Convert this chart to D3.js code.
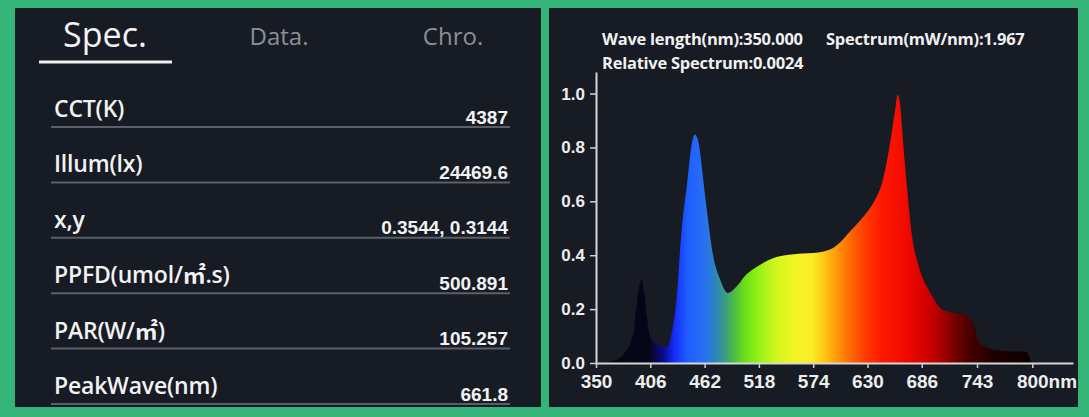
<!DOCTYPE html>
<html>
<head>
<meta charset="utf-8">
<script src="https://cdn.jsdelivr.net/npm/d3@7"></script>
<style>
    html, body { margin: 0; padding: 0; background: #35b479; }
    svg { display: block; }
</style>
</head>
<body>
<svg id="js-spec-svg"></svg>
<script>
'use strict';

// tabs and measurement rows
const tabs = ['Spec.', 'Data.', 'Chro.'];
const rowLabels = ['CCT(K)', 'Illum(lx)', 'x,y', 'PPFD(umol/㎡.s)', 'PAR(W/㎡)', 'PeakWave(nm)'];
const rowValues = ['4387', '24469.6', '0.3544, 0.3144', '500.891', '105.257', '661.8'];

// readout above the plot
const readout = ['Wave length(nm):350.000', 'Spectrum(mW/nm):1.967', 'Relative Spectrum:0.0024'];

// relative spectrum
const waves = [350, 360, 371, 380, 386, 389, 392, 395, 397, 399, 402, 405, 410, 416, 423, 428, 433, 438, 444, 449,
    452, 455, 457, 461, 466, 471, 478, 486, 495, 505, 519, 533, 554, 574, 585, 595, 602, 612, 626, 636, 646, 655, 659,
    661, 664, 666, 671, 676, 683, 695, 708, 720, 729, 739, 746, 763, 780, 794, 799, 800];
const relative = [0.0, 0.003, 0.011, 0.04, 0.08, 0.12, 0.22, 0.29, 0.31, 0.28, 0.19, 0.11, 0.075, 0.065, 0.06, 0.11,
    0.234, 0.48, 0.667, 0.817, 0.848, 0.83, 0.79, 0.667, 0.52, 0.395, 0.31, 0.26, 0.284, 0.328, 0.364, 0.39, 0.404,
    0.408, 0.414, 0.428, 0.448, 0.488, 0.544, 0.594, 0.68, 0.854, 0.95, 0.996, 0.95, 0.854, 0.643, 0.47, 0.358, 0.259,
    0.197, 0.185, 0.182, 0.147, 0.073, 0.048, 0.043, 0.042, 0.005, 0.0];

// axis ticks
const xTicks = [350, 406, 462, 518, 574, 630, 686, 743, 800];
const yTicks = [0, 0.2, 0.4, 0.6, 0.8, 1.0];

// colour of light along the wavelength axis
const gradWaves = [350, 405, 420, 432, 445, 462, 472, 482, 492, 502, 515, 535, 555, 572, 585, 598, 612, 628, 645, 670,
    690, 705, 720, 735, 760, 800];
const gradColors = ['#07070c', '#05051a', '#0c0c90', '#1630ff', '#1f5fff', '#2a70f0', '#2a82c4', '#389a88', '#4cba48',
    '#66dc1c', '#8cf015', '#d0f51e', '#f2f522', '#f8ee28', '#ffc814', '#ff9a08', '#ff6a00', '#ff3a00', '#ff1800',
    '#f00a00', '#d40000', '#ac0000', '#760000', '#480000', '#1e0000', '#0c0000'];

(function () {
    const width = 1089;
    const height = 417;
    const panelFill = '#171b24';
    const sans = "'Open Sans', 'Noto Sans CJK SC', sans-serif";
    const bold = "'Liberation Sans', Arial, sans-serif";

    const svg = d3.select('#js-spec-svg')
        .attr('width', width)
        .attr('height', height);

    svg.append('rect').attr('x', 15).attr('y', 8).attr('width', 526).attr('height', 399).attr('fill', panelFill);
    svg.append('rect').attr('x', 549).attr('y', 8).attr('width', 529).attr('height', 399).attr('fill', panelFill);

    // ---- left panel ----
    const tabX = d3.scalePoint().domain(tabs).range([105, 453]);

    svg.selectAll('.tab')
        .data(tabs)
        .enter().append('text')
        .attr('class', 'tab')
        .attr('x', d => tabX(d))
        .attr('y', (d, i) => i === 0 ? 47 : 45)
        .attr('text-anchor', 'middle')
        .attr('font-family', sans)
        .attr('font-size', (d, i) => i === 0 ? 34 : 24)
        .attr('fill', (d, i) => i === 0 ? '#f4f4f4' : '#8b8f97')
        .text(d => d);

    svg.append('line')
        .attr('x1', tabX(tabs[0]) - 66).attr('x2', tabX(tabs[0]) + 67)
        .attr('y1', 62).attr('y2', 62)
        .attr('stroke', '#f0f0f0')
        .attr('stroke-width', 3);

    const rowY = d3.scalePoint().domain(rowLabels).range([127, 404]);

    const row = svg.selectAll('.row')
        .data(rowLabels)
        .enter().append('g')
        .attr('class', 'row')
        .attr('transform', d => 'translate(0,' + rowY(d) + ')');

    row.append('line')
        .attr('x1', 51).attr('x2', 510)
        .attr('stroke', '#5a5f69')
        .attr('stroke-width', 2);

    row.append('text')
        .attr('x', 54)
        .attr('y', -10)
        .attr('font-family', sans)
        .attr('font-weight', 600)
        .attr('font-size', 23)
        .attr('letter-spacing', -0.2)
        .attr('fill', '#f2f2f2')
        .text(d => d);

    row.append('text')
        .attr('x', 508)
        .attr('y', -3.5)
        .attr('text-anchor', 'end')
        .attr('font-family', bold)
        .attr('font-weight', 'bold')
        .attr('font-size', 19)
        .attr('fill', '#f2f2f2')
        .text((d, i) => rowValues[i]);

    // ---- right panel: spectrum ----
    const x = d3.scaleLinear().domain([350, 842]).range([596, 1073]);
    const y = d3.scaleLinear().domain([0, 1.08]).range([363, 72]);

    const grad = svg.append('defs').append('linearGradient')
        .attr('id', 'spectrum-grad')
        .attr('gradientUnits', 'userSpaceOnUse')
        .attr('x1', x(350)).attr('x2', x(800))
        .attr('y1', 0).attr('y2', 0);

    grad.selectAll('stop')
        .data(gradWaves)
        .enter().append('stop')
        .attr('offset', d => (d - 350) / (800 - 350))
        .attr('stop-color', (d, i) => gradColors[i]);

    const area = d3.area()
        .x((d, i) => x(waves[i]))
        .y0(y(0))
        .y1(d => y(d))
        .curve(d3.curveMonotoneX);

    svg.append('path')
        .datum(relative)
        .attr('fill', 'url(#spectrum-grad)')
        .attr('d', area);

    const yAxis = svg.append('g')
        .attr('transform', 'translate(' + x(350) + ',0)')
        .call(d3.axisLeft(y)
            .tickValues(yTicks)
            .tickFormat(d3.format('.1f'))
            .tickSize(6)
            .tickSizeOuter(0)
            .tickPadding(5));

    const xAxis = svg.append('g')
        .attr('transform', 'translate(0,' + y(0) + ')')
        .call(d3.axisBottom(x)
            .tickValues(xTicks)
            .tickFormat(d3.format('d'))
            .tickSize(5)
            .tickSizeOuter(0)
            .tickPadding(7));

    [xAxis, yAxis].forEach(g => {
        g.select('.domain').attr('stroke', '#d6d6d6').attr('stroke-width', 2);
        g.selectAll('.tick line').attr('stroke', '#cfcfcf').attr('stroke-width', 1.5);
        g.selectAll('.tick text')
            .attr('fill', '#ededed')
            .attr('font-family', bold)
            .attr('font-weight', 'bold');
    });
    yAxis.selectAll('.tick text').attr('font-size', 17);
    xAxis.selectAll('.tick text').attr('font-size', 19);

    // last tick carries the unit after the number
    const last = xAxis.selectAll('.tick text').filter(d => d === 800);
    const numWidth = last.node().getComputedTextLength();
    last.attr('text-anchor', 'start')
        .attr('x', -numWidth / 2)
        .append('tspan')
        .text('nm');

    svg.selectAll('.readout')
        .data(readout)
        .enter().append('text')
        .attr('class', 'readout')
        .attr('x', (d, i) => i === 1 ? 826 : 602)
        .attr('y', (d, i) => i === 2 ? 68.5 : 45)
        .attr('font-family', sans)
        .attr('font-weight', 700)
        .attr('font-size', 16.5)
        .attr('letter-spacing', -0.25)
        .attr('fill', '#f0f0f0')
        .text(d => d);
})();
</script>
</body>
</html>
